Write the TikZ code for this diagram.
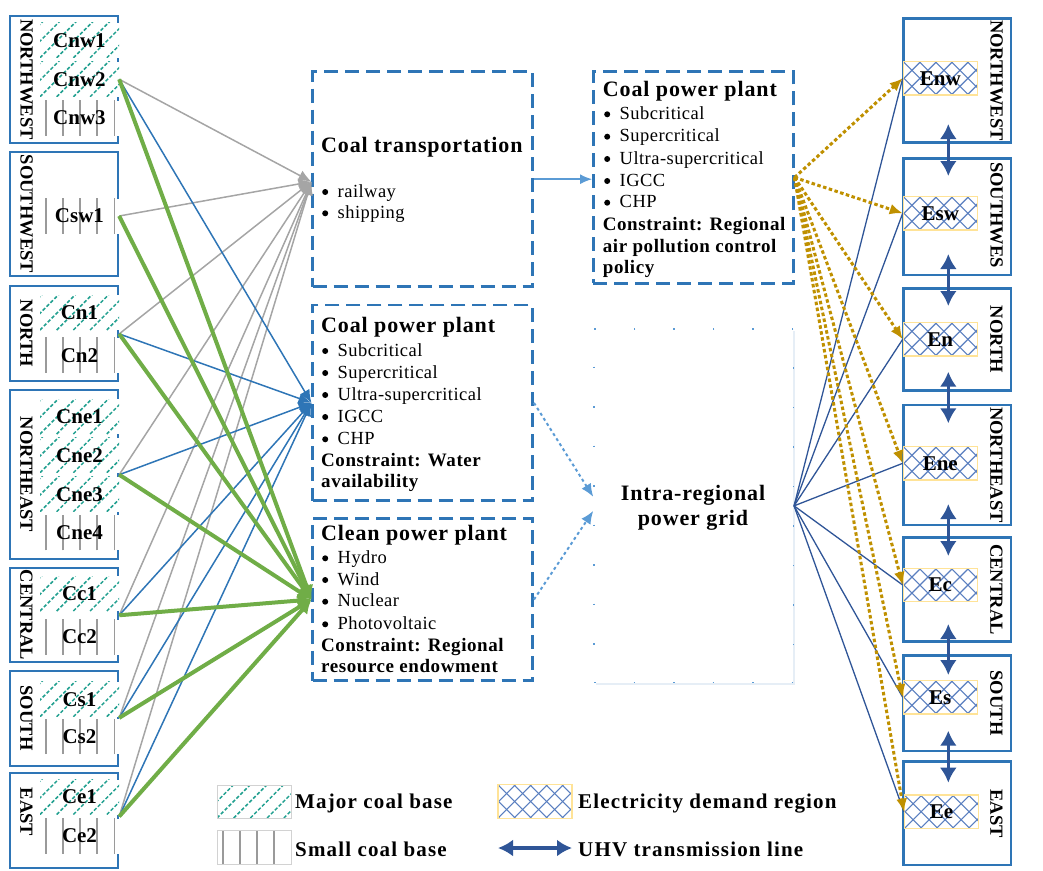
\documentclass[tikz,border=0pt]{standalone}
\usepackage{fontspec}
\setmainfont{Liberation Serif}
\usetikzlibrary{arrows.meta,calc,fit,shadows}
\definecolor{boxblue}{HTML}{2E75B6}
\definecolor{lblue}{HTML}{5B9BD5}
\definecolor{dblue}{HTML}{2F5597}
\definecolor{lgray}{HTML}{A5A5A5}
\definecolor{lgreen}{HTML}{70AD47}
\definecolor{gold}{HTML}{BF9000}
\definecolor{hteal}{HTML}{22A090}
\definecolor{vgray}{HTML}{9A9A9A}
\definecolor{xblue}{HTML}{5A7FC0}
\definecolor{ybord}{HTML}{FFE397}
\newcommand\fTitle{\fontsize{22}{24}\selectfont\bfseries\addfontfeature{LetterSpace=4}}
\newcommand\fBody{\fontsize{18.5}{20}\selectfont\addfontfeature{LetterSpace=2.5}}
\newcommand\fCons{\fontsize{19}{21}\selectfont\bfseries\addfontfeature{LetterSpace=3}}
\newcommand\fCell{\fontsize{21}{23}\selectfont\bfseries}
\newcommand\fReg{\fontsize{18.5}{20}\selectfont\bfseries}
\newcommand\fLeg{\fontsize{21}{23}\selectfont\bfseries\addfontfeature{LetterSpace=5.5}}
\newcommand\bul[1]{\makebox[15.5pt][l]{\tikz[baseline=0pt]\fill[black] (3.2pt,5pt) circle (3pt);}#1}
\tikzset{
  regbox/.style={draw=boxblue, line width=2.5pt, fill=white, inner sep=0pt},
  regtext/.style={rotate=-90, font=\fReg, inner sep=0pt},
  cellbase/.style={minimum width=79pt, minimum height=35pt, inner sep=0pt, fill=white, font=\fCell},
  major/.style={cellbase, path picture={
      \foreach \k in {-3,...,6}
        \draw[hteal, line width=1.5pt, dash pattern=on 3.5pt off 2pt]
          ([xshift={\k*16.7pt}]path picture bounding box.south west) -- ++(45pt,45pt);}},
  minor/.style={cellbase, path picture={
      \foreach \k in {0,...,4}
        \draw[vgray, line width=1.8pt]
          ([xshift={5.7pt+\k*17.2pt}]path picture bounding box.south west) -- ++(0pt,60pt);}},
  ecell/.style={draw=ybord, line width=1.2pt, fill=white, minimum width=74pt, minimum height=33.3pt, inner sep=0pt, font=\fCell,
    path picture={
      \foreach \k in {-3,...,6}{
        \draw[xblue, line width=1.1pt] ([xshift={\k*16pt}]path picture bounding box.south west) -- ++(40pt,40pt);
        \draw[xblue, line width=1.1pt] ([xshift={\k*16pt}]path picture bounding box.north west) -- ++(40pt,-40pt);}}},
  dbox/.style={draw=boxblue, line width=2.5pt, dash pattern=on 14pt off 7pt, fill=white, inner sep=0pt},
  txt/.style={anchor=base west, inner sep=0pt},
  grayarr/.style={draw=lgray, line width=1.5pt, -{Latex[length=13pt,width=11pt]}},
  bluearr/.style={draw=boxblue, line width=1.5pt, -{Latex[length=13pt,width=11pt]}},
  greenarr/.style={draw=lgreen, line width=4pt, -{Latex[length=14pt,width=14pt]}},
  lbarr/.style={draw=lblue, line width=1.5pt, -{Latex[length=12pt,width=10pt]}},
  dotarr/.style={draw=lblue, line width=2pt, dash pattern=on 3pt off 3pt, -{Latex[length=13pt,width=11pt]}},
  gline/.style={draw=gold, line width=3pt, dash pattern=on 3.5pt off 2.5pt, -{Latex[length=13pt,width=11pt]}},
  bline/.style={draw=dblue, line width=1.3pt},
  uhv/.style={draw=dblue, line width=3.5pt, {Latex[length=15pt,width=17pt]}-{Latex[length=15pt,width=17pt]}}
}
\begin{document}
\begin{tikzpicture}[x=1pt,y=-1pt]
\useasboundingbox (0,0) rectangle (1043,870);

% ---------- left region boxes ----------
\node[regbox, fit={(10,16) (118,143)}] (LNW) {};
\node[regbox, fit={(10,152) (118,276)}] (LSW) {};
\node[regbox, fit={(10,286) (118,381)}] (LN) {};
\node[regbox, fit={(10,390) (118,559)}] (LNE) {};
\node[regbox, fit={(10,568) (118,662)}] (LC) {};
\node[regbox, fit={(10,671) (118,766)}] (LS) {};
\node[regbox, fit={(10,773) (118,868)}] (LE) {};
\node[regtext] (tLNW) at (26.5,79.5) {NORTHWEST};
\node[regtext] (tLSW) at (26.5,214) {SOUTHWEST};
\node[regtext] (tLN) at (26.5,333.5) {NORTH};
\node[regtext] (tLNE) at (26.5,474.5) {NORTHEAST};
\node[regtext] (tLC) at (26.5,615) {CENTRAL};
\node[regtext] (tLS) at (26.5,718) {SOUTH};
\node[regtext] (tLE) at (26.5,812) {EAST};

% ---------- coal cells ----------
\node[major] (Cnw1) at (79.5,40.3) {Cnw1};
\node[major] (Cnw2) at (79.5,79.3) {Cnw2};
\node[minor] (Cnw3) at (79.5,118) {Cnw3};
\node[minor] (Csw1) at (79.5,216) {Csw1};
\node[major] (Cn1) at (79.5,312.5) {Cn1};
\node[minor] (Cn2) at (79.5,355.3) {Cn2};
\node[major] (Cne1) at (79.5,416.5) {Cne1};
\node[major] (Cne2) at (79.5,455.2) {Cne2};
\node[major] (Cne3) at (79.5,494.2) {Cne3};
\node[minor] (Cne4) at (79.5,532.8) {Cne4};
\node[major] (Cc1) at (79.5,593.5) {Cc1};
\node[minor] (Cc2) at (79.5,637) {Cc2};
\node[major] (Cs1) at (79.5,699.2) {Cs1};
\node[minor] (Cs2) at (79.5,736.5) {Cs2};
\node[major] (Ce1) at (79.5,797) {Ce1};
\node[minor] (Ce2) at (79.5,836) {Ce2};

\coordinate (sNW) at (Cnw2.east);
\coordinate (sSW) at (Csw1.east);
\coordinate (sN) at ($(Cn1.south east)!0.5!(Cn2.north east)$);
\coordinate (sNE) at ($(Cne2.south east)!0.5!(Cne3.north east)$);
\coordinate (sC) at ($(Cc1.south east)!0.5!(Cc2.north east)$);
\coordinate (sS) at ($(Cs1.south east)!0.5!(Cs2.north east)$);
\coordinate (sE) at ($(Ce1.south east)!0.5!(Ce2.north east)$);

% ---------- centre boxes ----------
\node[dbox, fit={(312.7,71.7) (532.7,286.7)}] (CT) {};
\node[dbox, fit={(312.7,305) (532.7,500.7)}] (CP) {};
\node[dbox, fit={(312.7,518.3) (532.7,680.7)}] (CL) {};
\node[dbox, fit={(593.3,71.7) (793.3,283.3)}] (RP) {};
\node[fill=white, draw=lblue, line width=1.5pt, dash pattern=on 1.5pt off 38pt, inner sep=0pt,
      drop shadow={shadow xshift=1.5pt, shadow yshift=-2pt, fill=boxblue, opacity=0.12},
      fit={(594,329) (793.3,682.7)}] (GR) {};

\node[txt, font=\fTitle] (CTt) at (321,152.7) {Coal transportation};
\node[txt, font=\fBody] (CTa) at (322,197) {\bul{railway}};
\node[txt, font=\fBody] (CTb) at (322,218.3) {\bul{shipping}};

\node[txt, font=\fTitle] (CPt) at (321,332.7) {Coal power plant};
\node[txt, font=\fBody] (CPa) at (322,356) {\bul{Subcritical}};
\node[txt, font=\fBody] (CPb) at (322,378) {\bul{Supercritical}};
\node[txt, font=\fBody] (CPc) at (322,400) {\bul{Ultra-supercritical}};
\node[txt, font=\fBody] (CPd) at (322,422) {\bul{IGCC}};
\node[txt, font=\fBody] (CPe) at (322,444.3) {\bul{CHP}};
\node[txt, font=\fCons] (CPf) at (321,466) {Constraint: Water};
\node[txt, font=\fCons] (CPg) at (321,487.3) {availability};

\node[txt, font=\fTitle] (CLt) at (321,540) {Clean power plant};
\node[txt, font=\fBody] (CLa) at (322,563.3) {\bul{Hydro}};
\node[txt, font=\fBody] (CLb) at (322,585) {\bul{Wind}};
\node[txt, font=\fBody] (CLc) at (322,606.7) {\bul{Nuclear}};
\node[txt, font=\fBody] (CLd) at (322,629.3) {\bul{Photovoltaic}};
\node[txt, font=\fCons] (CLe) at (321,651.7) {Constraint: Regional};
\node[txt, font=\fCons] (CLf) at (321,672.7) {resource endowment};

\node[txt, font=\fTitle] (RPt) at (602.7,96) {Coal power plant};
\node[txt, font=\fBody] (RPa) at (604,119.3) {\bul{Subcritical}};
\node[txt, font=\fBody] (RPb) at (604,141.7) {\bul{Supercritical}};
\node[txt, font=\fBody] (RPc) at (604,164) {\bul{Ultra-supercritical}};
\node[txt, font=\fBody] (RPd) at (604,186) {\bul{IGCC}};
\node[txt, font=\fBody] (RPe) at (604,207.7) {\bul{CHP}};
\node[txt, font=\fCons] (RPf) at (602.7,230) {Constraint: Regional};
\node[txt, font=\fCons] (RPg) at (602.7,252.7) {air pollution control};
\node[txt, font=\fCons] (RPh) at (602.7,273.3) {policy};

\node[anchor=base, inner sep=0pt, font=\fTitle] (GRa) at (693,500) {Intra-regional};
\node[anchor=base, inner sep=0pt, font=\fTitle] (GRb) at (693,525) {power grid};

% ---------- right region boxes ----------
\node[regbox, fit={(903.3,18.3) (1011,142.7)}] (RNW) {};
\node[regbox, fit={(903.3,158.3) (1011,275)}] (RSW) {};
\node[regbox, fit={(903.3,288.3) (1011,390.7)}] (RN) {};
\node[regbox, fit={(903.3,405) (1011,525)}] (RNE) {};
\node[regbox, fit={(903.3,537.3) (1011,641.7)}] (RC) {};
\node[regbox, fit={(903.3,655.7) (1011,751)}] (RS) {};
\node[regbox, fit={(903.3,761.7) (1011,865)}] (RE) {};
\node[regtext] (tRNW) at (996.5,80.5) {NORTHWEST};
\node[regtext] (tRSW) at (996.5,215) {SOUTHWES};
\node[regtext] (tRN) at (996.5,339.5) {NORTH};
\node[regtext] (tRNE) at (996.5,465) {NORTHEAST};
\node[regtext] (tRC) at (996.5,589.5) {CENTRAL};
\node[regtext] (tRS) at (996.5,703) {SOUTH};
\node[regtext] (tRE) at (996.5,813.5) {EAST};

\node[ecell] (Enw) at (940.3,78.3) {Enw};
\node[ecell] (Esw) at (940.3,213.3) {Esw};
\node[ecell] (En) at (940.3,339.3) {En};
\node[ecell] (Ene) at (940.3,463.3) {Ene};
\node[ecell] (Ec) at (940.3,585) {Ec};
\node[ecell] (Es) at (940.3,697.3) {Es};
\node[ecell] (Ee) at (941.5,811.7) {Ee};

% ---------- left connectors ----------
\foreach \s in {sNW,sSW,sN,sNE,sC,sS,sE}
  \draw[grayarr] (\s) -- ($(CT.west)+(0,2.5)$);
\foreach \s in {sNW,sN,sNE,sC,sS,sE}
  \draw[bluearr] (\s) -- (CP.west);
\foreach \s in {sNW,sSW,sN,sNE,sC,sS,sE}
  \draw[greenarr] (\s) -- (CL.west);

% ---------- centre connectors ----------
\draw[lbarr] (CT.east) -- (CT.east -| RP.west);
\draw[dotarr] (CP.east) -- ($(GR.west)+(0,-9)$);
\draw[dotarr] (CL.east) -- ($(GR.west)+(0,5)$);

% ---------- right connectors ----------
\foreach \e in {Enw,Esw,En,Ene,Ec,Es,Ee}
  \draw[bline] (GR.east) -- (\e.west);
\foreach \e in {Enw,Esw,En,Ene,Ec,Es,Ee}
  \draw[gline] (RP.east) -- (\e.west);

% ---------- UHV links ----------
\coordinate (u1a) at (948.3,124);   \coordinate (u1b) at (948.3,176);
\coordinate (u2a) at (948.3,254);   \coordinate (u2b) at (948.3,306);
\coordinate (u3a) at (948.3,371.7); \coordinate (u3b) at (948.3,423.3);
\coordinate (u4a) at (948.3,504);   \coordinate (u4b) at (948.3,556);
\coordinate (u5a) at (948.3,624);   \coordinate (u5b) at (948.3,675);
\coordinate (u6a) at (948.3,730.7); \coordinate (u6b) at (948.3,782.7);
\foreach \i in {1,...,6}
  \draw[uhv] (u\i a) -- (u\i b);

% ---------- legend ----------
\node[major, minimum width=74pt, minimum height=33pt, draw=gray!35, line width=0.8pt] (LgMaj) at (254,801.5) {};
\node[minor, minimum width=74pt, minimum height=34pt, draw=gray!35, line width=0.8pt] (LgMin) at (254,847) {};
\node[ecell] (LgE) at (535,801.5) {};
\coordinate (LgUa) at (498,848);
\coordinate (LgUb) at (572,848);
\draw[uhv] (LgUa) -- (LgUb);
\node[txt, font=\fLeg] (LgT1) at (295,808) {Major coal base};
\node[txt, font=\fLeg] (LgT2) at (295,856) {Small coal base};
\node[txt, font=\fLeg] (LgT3) at (578,808) {Electricity demand region};
\node[txt, font=\fLeg] (LgT4) at (578,856) {UHV transmission line};
\end{tikzpicture}
\end{document}
